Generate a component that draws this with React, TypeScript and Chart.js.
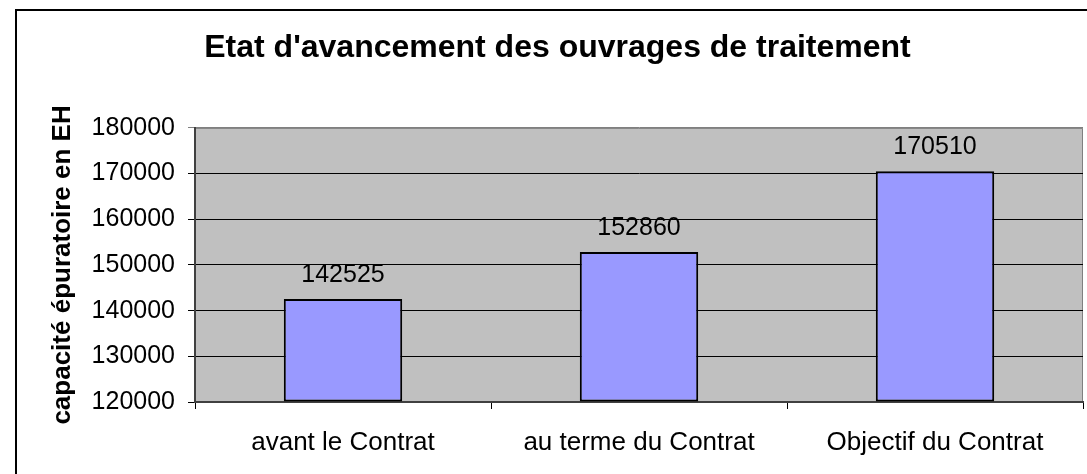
import React, { useEffect, useRef } from 'react';
import { Chart, registerables } from 'chart.js';

Chart.register(...registerables);

const categories = ['avant le Contrat', 'au terme du Contrat', 'Objectif du Contrat'];
const capacities = [142525, 152860, 170510];
const yMin = 120000;
const yMax = 180000;
const yStep = 10000;
const chartTitle = "Etat d'avancement des ouvrages de traitement";
const yTitle = 'capacité épuratoire en EH';

const FONT = "'Liberation Sans', Arial, sans-serif";

const plotBg = {
  id: 'plotBg',
  beforeDraw(chart: any) {
    const { ctx, chartArea: a } = chart;
    ctx.save();
    ctx.fillStyle = '#C0C0C0';
    ctx.fillRect(a.left, a.top, a.right - a.left, a.bottom - a.top);
    ctx.strokeStyle = '#808080';
    ctx.lineWidth = 1;
    ctx.beginPath();
    ctx.moveTo(a.left, a.top + 0.5);
    ctx.lineTo(a.right - 0.5, a.top + 0.5);
    ctx.lineTo(a.right - 0.5, a.bottom);
    ctx.stroke();
    ctx.restore();
  },
};

const valueLabels = {
  id: 'valueLabels',
  afterDatasetsDraw(chart: any) {
    const { ctx } = chart;
    const meta = chart.getDatasetMeta(0);
    ctx.save();
    ctx.font = `25px ${FONT}`;
    ctx.fillStyle = '#000';
    ctx.textAlign = 'center';
    ctx.textBaseline = 'alphabetic';
    meta.data.forEach((bar: any, i: number) => {
      ctx.fillText(String(chart.data.datasets[0].data[i]), bar.x, bar.y - 17);
    });
    ctx.restore();
  },
};

export default function App() {
  const ref = useRef<HTMLCanvasElement | null>(null);

  useEffect(() => {
    if (!ref.current) return;
    const chart = new Chart(ref.current, {
      type: 'bar',
      data: {
        labels: categories,
        datasets: [
          {
            data: capacities,
            backgroundColor: '#9999FF',
            borderColor: '#000000',
            borderWidth: 2,
            borderSkipped: false,
            base: yMin,
            categoryPercentage: 1,
            barPercentage: 0.4,
          } as any,
        ],
      },
      options: {
        responsive: false,
        animation: false,
        devicePixelRatio: 1,
        layout: { padding: { left: 15, right: 16, top: 0, bottom: 0 } },
        plugins: {
          legend: { display: false },
          tooltip: { enabled: false },
          title: {
            display: true,
            text: chartTitle,
            color: '#000',
            font: { family: FONT, size: 32, weight: 'bold' },
            padding: { top: 18, bottom: 60.5 },
          },
        },
        scales: {
          x: {
            offset: true,
            grid: {
              offset: true,
              drawOnChartArea: false,
              drawTicks: true,
              tickLength: 7,
              color: '#000',
              lineWidth: 1,
            },
            border: { display: true, color: '#404040', width: 2 },
            ticks: {
              color: '#000',
              font: { family: FONT, size: 26 },
              padding: 18,
              maxRotation: 0,
              autoSkip: false,
            },
            afterFit(scale: any) {
              scale.height = 89;
            },
          },
          y: {
            min: yMin,
            max: yMax,
            ticks: {
              stepSize: yStep,
              color: '#000',
              font: { family: FONT, size: 25 },
              padding: 13,
              callback: (v: any) => String(v),
            },
            grid: {
              color: (c: any) => (c.tick && c.tick.value === yMax ? '#808080' : '#000'),
              lineWidth: 1,
              tickLength: 7,
              drawTicks: true,
            },
            border: { color: '#404040', width: 2 },
            title: {
              display: true,
              text: yTitle,
              color: '#000',
              font: { family: FONT, size: 26, weight: 'bold' },
              padding: { top: 15, bottom: 0 },
            },
            afterFit(scale: any) {
              scale.width = 163;
            },
          },
        },
      } as any,
      plugins: [plotBg, valueLabels],
    });
    return () => chart.destroy();
  }, []);

  return (
    <div
      style={{
        position: 'fixed',
        left: 0,
        top: 0,
        width: 1087,
        height: 474,
        overflow: 'hidden',
        background: '#fff',
      }}
    >
      <div
        style={{
          position: 'absolute',
          left: 15,
          top: 9,
          width: 1082,
          height: 480,
          border: '2px solid #000',
        }}
      >
        <canvas ref={ref} width={1082} height={480} style={{ display: 'block' }} />
      </div>
    </div>
  );
}
